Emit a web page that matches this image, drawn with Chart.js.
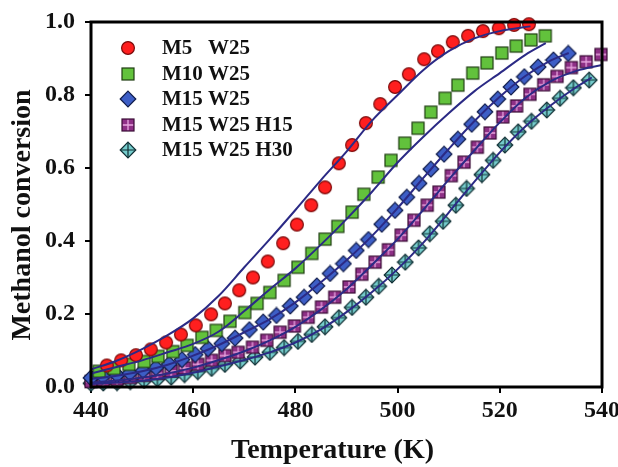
<!DOCTYPE html>
<html><head><meta charset="utf-8">
<script src="https://cdn.jsdelivr.net/npm/chart.js@4"></script>
<style>html,body{margin:0;padding:0;background:#fff;}#wrap{width:618px;height:467px;}</style>
</head><body><div id="wrap"><canvas id="c" width="618" height="467"></canvas></div>
<script>
// ---- data ----
const xTicks = [440, 460, 480, 500, 520, 540];
const yTicks = ['0.0', '0.2', '0.4', '0.6', '0.8', '1.0'];
const seriesNames = ['M5   W25', 'M10 W25', 'M15 W25', 'M15 W25 H15', 'M15 W25 H30'];

const redT = [443.1,445.9,448.8,451.7,454.7,457.6,460.5,463.5,466.2,469.0,471.7,474.6,477.6,480.3,483.1,485.8,488.5,491.1,493.8,496.6,499.5,502.2,505.2,507.9,510.8,513.8,516.7,519.8,522.8,525.7];
const redY = [0.059,0.073,0.087,0.103,0.122,0.144,0.169,0.199,0.229,0.265,0.300,0.344,0.394,0.445,0.498,0.547,0.613,0.663,0.723,0.775,0.822,0.857,0.898,0.920,0.945,0.962,0.975,0.983,0.992,0.994];

const greenT = [441.6,444.5,447.4,450.4,453.1,456.0,458.8,461.7,464.5,467.2,470.1,472.5,475.0,477.8,480.5,483.2,485.8,488.3,491.1,493.4,496.2,498.7,501.4,504.0,506.5,509.3,511.8,514.7,517.5,520.4,523.2,526.1,528.9];
const greenY = [0.043,0.051,0.062,0.070,0.084,0.097,0.114,0.136,0.155,0.180,0.204,0.229,0.259,0.292,0.328,0.366,0.405,0.440,0.479,0.528,0.575,0.621,0.668,0.709,0.753,0.791,0.827,0.860,0.888,0.915,0.934,0.951,0.962];

const blueT = [440.0,442.3,445.1,447.6,450.2,452.7,455.3,457.8,460.4,462.9,465.6,468.2,471.0,473.7,476.3,479.0,481.7,484.2,486.8,489.4,491.9,494.3,496.9,499.5,501.8,504.2,506.5,509.1,511.8,514.5,517.1,519.6,522.2,524.8,527.5,530.5,533.4];
const blueY = [0.025,0.029,0.033,0.038,0.045,0.053,0.063,0.075,0.089,0.105,0.119,0.134,0.157,0.178,0.196,0.222,0.246,0.277,0.311,0.338,0.374,0.404,0.446,0.484,0.520,0.558,0.597,0.638,0.679,0.720,0.754,0.789,0.822,0.850,0.877,0.896,0.914];

const pinkT = [440.0,442.4,445.1,447.7,450.4,453.0,455.7,458.3,460.9,463.6,466.2,468.8,471.6,474.4,477.0,479.8,482.5,485.1,487.7,490.5,493.0,495.6,498.2,500.7,503.2,505.8,508.1,510.5,513.0,515.6,518.1,520.6,523.3,525.9,528.6,531.2,534.0,536.9,539.8];
const pinkY = [0.015,0.018,0.021,0.026,0.032,0.037,0.044,0.052,0.062,0.073,0.086,0.095,0.109,0.128,0.150,0.167,0.191,0.219,0.246,0.274,0.309,0.342,0.376,0.416,0.457,0.498,0.534,0.579,0.616,0.657,0.696,0.740,0.770,0.802,0.828,0.851,0.875,0.891,0.911];

const cyanT = [440.0,442.4,445.1,447.7,450.4,453.0,455.7,458.3,460.9,463.6,466.2,469.2,472.1,475.0,477.8,480.5,483.2,485.8,488.5,491.1,493.8,496.3,498.9,501.5,504.1,506.3,508.9,511.4,513.5,516.5,518.7,521.0,523.6,526.2,529.2,531.8,534.4,537.5];
const cyanY = [0.010,0.011,0.012,0.015,0.018,0.022,0.027,0.034,0.042,0.051,0.062,0.071,0.082,0.095,0.108,0.125,0.144,0.165,0.190,0.218,0.246,0.276,0.307,0.342,0.381,0.420,0.454,0.498,0.544,0.582,0.621,0.663,0.699,0.728,0.759,0.791,0.820,0.841];

// fitted model curves
const redFitT = [440,445,450,455,460,465,470,475,480,485,490,495,500,505,510,515,520,526];
const redFitY = [0.048,0.072,0.104,0.142,0.188,0.250,0.328,0.405,0.485,0.567,0.645,0.730,0.800,0.868,0.920,0.955,0.975,0.988];
const greenFitT = [440,445,450,455,460,465,470,475,480,485,490,495,500,505,510,515,520,525,529];
const greenFitY = [0.037,0.055,0.073,0.095,0.118,0.152,0.208,0.268,0.325,0.390,0.460,0.535,0.615,0.685,0.750,0.810,0.860,0.910,0.942];
const blueFitT = [440,445,450,455,460,465,470,475,480,485,490,495,500,505,510,515,520,525,530,533.5];
const blueFitY = [0.022,0.031,0.043,0.061,0.086,0.115,0.150,0.186,0.232,0.287,0.347,0.414,0.490,0.572,0.652,0.728,0.795,0.852,0.895,0.915];
const pinkFitT = [440,445,450,455,460,465,470,475,480,485,490,495,500,505,510,515,520,525,530,535,540];
const pinkFitY = [0.012,0.018,0.026,0.037,0.053,0.074,0.098,0.128,0.165,0.212,0.268,0.335,0.405,0.485,0.568,0.648,0.725,0.792,0.838,0.866,0.882];
const cyanFitT = [440,445,450,455,460,465,470,475,480,485,490,495,500,505,510,515,520,525,530,535,538];
const cyanFitY = [0.008,0.012,0.017,0.026,0.039,0.056,0.074,0.095,0.122,0.158,0.205,0.260,0.323,0.395,0.478,0.562,0.643,0.714,0.772,0.822,0.848];

// ---- markers ----
function mk(type) {
  const s = 18, c = document.createElement('canvas');
  c.width = s; c.height = s;
  const g = c.getContext('2d'), m = s / 2;
  g.lineWidth = 1.2;
  if (type === 'circle') {
    g.beginPath(); g.arc(m, m, 6.4, 0, Math.PI * 2);
    g.fillStyle = '#ff1f1f'; g.fill(); g.strokeStyle = '#7a0a0a'; g.stroke();
  } else if (type === 'square') {
    g.fillStyle = '#62c23c'; g.fillRect(m - 6, m - 6, 12, 12);
    g.strokeStyle = '#1e3d12'; g.strokeRect(m - 6, m - 6, 12, 12);
  } else if (type === 'diamond') {
    g.beginPath(); g.moveTo(m, m - 7.8); g.lineTo(m + 7.8, m); g.lineTo(m, m + 7.8); g.lineTo(m - 7.8, m); g.closePath();
    g.fillStyle = '#3d5ec6'; g.fill(); g.strokeStyle = '#101c4a'; g.stroke();
  } else if (type === 'sqcross') {
    g.fillStyle = '#8e2f86'; g.fillRect(m - 6, m - 6, 12, 12);
    g.strokeStyle = '#e9a6e0'; g.lineWidth = 1.3;
    g.beginPath(); g.moveTo(m, m - 5.5); g.lineTo(m, m + 5.5); g.moveTo(m - 5.5, m); g.lineTo(m + 5.5, m); g.stroke();
    g.lineWidth = 1.2; g.strokeStyle = '#3a0c36'; g.strokeRect(m - 6, m - 6, 12, 12);
  } else if (type === 'diacross') {
    g.beginPath(); g.moveTo(m, m - 7.8); g.lineTo(m + 7.8, m); g.lineTo(m, m + 7.8); g.lineTo(m - 7.8, m); g.closePath();
    g.fillStyle = '#74cccc'; g.fill(); g.strokeStyle = '#0f2e33'; g.stroke();
    g.beginPath(); g.moveTo(m, m - 7); g.lineTo(m, m + 7); g.moveTo(m - 7, m); g.lineTo(m + 7, m); g.stroke();
  }
  return c;
}
const markers = [mk('circle'), mk('square'), mk('diamond'), mk('sqcross'), mk('diacross')];

const pts = (t, y) => t.map((v, i) => ({x: v, y: y[i]}));
const lineColor = '#2b2a85';
const serif = '"Liberation Serif", "Times New Roman", serif';

const pointSets = [[redT, redY], [greenT, greenY], [blueT, blueY], [pinkT, pinkY], [cyanT, cyanY]];
const fitSets = [[redFitT, redFitY], [greenFitT, greenFitY], [blueFitT, blueFitY], [pinkFitT, pinkFitY], [cyanFitT, cyanFitY]];

const datasets = [];
fitSets.forEach((f, i) => datasets.push({
  label: 'fit ' + i, data: pts(f[0], f[1]), showLine: true, borderColor: lineColor, borderWidth: 2,
  pointRadius: 0, cubicInterpolationMode: 'monotone', fill: false, order: 0
}));
pointSets.forEach((p, i) => datasets.push({
  label: seriesNames[i], data: pts(p[0], p[1]), showLine: false, pointStyle: markers[i],
  pointRadius: 7, clip: false, order: 1
}));

const legendPlugin = {
  id: 'inlegend',
  afterDraw(chart) {
    const ctx = chart.ctx;
    const rows = [48, 74, 99, 125, 150];
    ctx.save();
    ctx.font = 'bold 21px ' + serif;
    ctx.fillStyle = '#111';
    ctx.textBaseline = 'middle';
    ctx.textAlign = 'left';
    rows.forEach((y, i) => {
      const mkc = markers[i];
      ctx.drawImage(mkc, 128 - mkc.width / 2, y - mkc.height / 2);
      ctx.fillText(seriesNames[i], 162, y + 1);
    });
    ctx.restore();
  }
};
const framePlugin = {
  id: 'frame',
  afterDatasetsDraw(chart) {
    const a = chart.chartArea, ctx = chart.ctx;
    ctx.save(); ctx.strokeStyle = '#000'; ctx.lineWidth = 3;
    ctx.strokeRect(a.left, a.top, a.right - a.left, a.bottom - a.top);
    ctx.restore();
  }
};

new Chart(document.getElementById('c'), {
  type: 'scatter',
  data: {datasets},
  options: {
    responsive: false, animation: false, devicePixelRatio: 1,
    layout: {padding: {left: 0, right: 16, top: 22, bottom: 0}},
    plugins: {legend: {display: false}, tooltip: {enabled: false}},
    scales: {
      x: {
        type: 'linear', min: 440, max: 540,
        afterBuildTicks: s => { s.ticks = xTicks.map(v => ({value: v})); },
        afterFit: s => { s.height = 80; s.paddingLeft = 0; s.paddingRight = 0; },
        grid: {drawOnChartArea: false, drawTicks: true, tickLength: 6, color: '#000', lineWidth: 2},
        border: {display: false},
        ticks: {color: '#111', font: {family: serif, size: 24, weight: 'bold'}, padding: 3, maxRotation: 0},
        title: {display: true, text: 'Temperature (K)    ', color: '#111', font: {family: serif, size: 28, weight: 'bold'}, padding: {top: 0, bottom: -1}}
      },
      y: {
        type: 'linear', min: 0, max: 1,
        afterBuildTicks: s => { s.ticks = yTicks.map(v => ({value: parseFloat(v)})); },
        afterFit: s => { s.width = 91; s.paddingTop = 0; s.paddingBottom = 0; },
        grid: {drawOnChartArea: false, drawTicks: true, tickLength: 6, color: '#000', lineWidth: 2},
        border: {display: false},
        ticks: {color: '#111', font: {family: serif, size: 24, weight: 'bold'}, padding: 10,
          callback: (v) => yTicks[Math.round(v * 5)]},
        title: {display: true, text: 'Methanol conversion   ', color: '#111', font: {family: serif, size: 28, weight: 'bold'}, padding: {top: 6, bottom: 0}}
      }
    }
  },
  plugins: [framePlugin, legendPlugin]
});
</script>
</body></html>
